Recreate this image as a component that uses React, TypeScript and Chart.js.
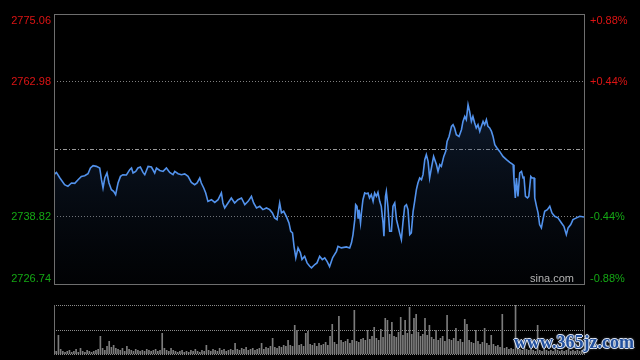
import React, { useEffect, useRef } from "react";
import { Chart, registerables } from "chart.js";

Chart.register(...registerables);

// ---- data ----
const PREV_CLOSE = 2750.9;
const PRICE_TICKS = [2775.06, 2762.98, 2738.82, 2726.74];
const PCT_TICKS = ["+0.88%", "+0.44%", "-0.44%", "-0.88%"];
const GRID_LEVELS = [2762.98, 2738.82];

const minutes = [
  0, 1.1, 2.6, 4.8, 6.3, 7.9, 9.4, 10.9, 12.4, 13.9, 15.4, 16.5, 17.7, 19.2, 20.7, 21.5, 22.2, 23.0, 24.0, 24.9,
  26.0, 27.0, 27.9, 29.0, 30.1, 31.2, 32.8, 34.3, 35.1, 35.8, 37.0, 38.0, 39.1, 40.3, 41.1, 42.6, 44.1, 45.6, 46.4, 47.9,
  49.4, 50.9, 52.4, 53.9, 54.7, 56.2, 57.7, 59.2, 60.7, 62.2, 63.7, 64.8, 66.0, 66.7, 67.8, 68.7, 69.7, 71.3, 72.8, 74.3,
  75.8, 76.5, 77.3, 78.8, 80.3, 81.8, 83.3, 84.9, 86.4, 87.9, 89.4, 90.4, 91.7, 93.2, 94.6, 96.2, 97.7, 98.9, 99.9, 101.0,
  102.2, 103.0, 104.0, 105.2, 106.4, 107.2, 108.0, 108.7, 109.5, 110.5, 111.6, 112.3, 113.5, 114.6, 115.8, 116.6, 118.1, 119.1, 120.3, 121.5,
  122.6, 123.7, 124.8, 126.2, 127.9, 128.6, 130.1, 132.4, 133.9, 134.7, 135.4, 136.2, 136.6, 137.2, 137.7, 138.1, 138.8, 139.2, 139.9, 140.7,
  141.4, 142.2, 142.9, 143.7, 144.5, 145.2, 146.0, 146.7, 147.5, 148.2, 149.0, 149.4, 150.1, 150.5, 151.2, 152.0, 152.8, 153.5, 154.3, 155.1,
  155.8, 156.5, 157.3, 158.0, 158.8, 159.6, 160.3, 161.1, 161.8, 162.6, 163.3, 164.1, 164.8, 165.6, 166.4, 167.1, 167.9, 168.6, 169.4, 170.1,
  170.9, 171.9, 173.2, 173.9, 174.7, 175.4, 176.5, 177.4, 178.0, 178.9, 180.0, 180.7, 181.4, 182.2, 183.4, 184.5, 185.2, 186.0, 186.7, 187.5,
  188.2, 189.0, 189.7, 190.5, 191.2, 192.0, 192.8, 193.5, 194.3, 195.0, 195.8, 196.5, 197.3, 198.1, 198.8, 199.6, 200.6, 201.8, 203.3, 204.9,
  206.4, 207.9, 208.3, 208.9, 209.4, 210.1, 210.9, 211.7, 212.4, 212.8, 213.5, 214.4, 215.0, 215.9, 216.5, 217.4, 217.7, 218.5, 219.2, 219.9,
  220.7, 221.4, 222.2, 223.4, 224.5, 225.5, 226.7, 228.2, 229.8, 230.9, 232.0, 232.8, 234.0, 235.0, 236.6, 238.1, 240,
];

const prices = [
  2746.30, 2746.71, 2745.76, 2744.51, 2744.21, 2744.82, 2744.75, 2745.41, 2746.00, 2746.12, 2746.48, 2747.50, 2747.92, 2747.79, 2747.50, 2745.41, 2743.92, 2745.71, 2746.61, 2744.82,
  2743.62, 2743.31, 2742.73, 2744.82, 2746.00, 2746.30, 2746.25, 2747.20, 2747.50, 2746.61, 2746.89, 2747.50, 2747.68, 2746.71, 2746.30, 2747.79, 2747.68, 2746.61, 2747.50, 2747.07,
  2746.89, 2747.50, 2746.71, 2746.30, 2746.89, 2746.48, 2746.30, 2746.43, 2746.00, 2744.92, 2744.51, 2744.82, 2745.71, 2744.82, 2743.92, 2743.03, 2741.53, 2741.83, 2741.35, 2741.83,
  2743.03, 2741.24, 2740.35, 2741.24, 2742.14, 2741.24, 2741.83, 2742.14, 2740.94, 2741.53, 2742.42, 2741.24, 2740.35, 2740.64, 2740.05, 2740.35, 2740.05, 2739.46, 2738.57, 2738.26,
  2741.24, 2739.46, 2739.75, 2738.85, 2737.67, 2736.17, 2735.89, 2733.49, 2731.42, 2733.20, 2732.31, 2731.11, 2731.70, 2730.52, 2729.92, 2729.63, 2730.22, 2730.52, 2731.70, 2731.11,
  2731.42, 2730.76, 2729.86, 2731.47, 2732.59, 2733.49, 2733.20, 2733.38, 2733.20, 2734.10, 2735.58, 2738.26, 2740.94, 2740.64, 2738.57, 2740.05, 2737.67, 2739.46, 2741.83, 2743.03,
  2742.91, 2743.03, 2742.14, 2742.73, 2741.53, 2743.03, 2742.42, 2743.14, 2741.53, 2740.64, 2737.67, 2735.28, 2742.42, 2743.31, 2740.64, 2736.17, 2736.17, 2740.64, 2741.24, 2738.26,
  2737.07, 2735.89, 2734.69, 2737.67, 2740.64, 2740.94, 2740.05, 2735.58, 2735.89, 2739.69, 2741.47, 2743.62, 2744.82, 2745.71, 2745.41, 2746.30, 2748.99, 2749.88, 2748.68, 2745.71,
  2747.50, 2749.58, 2748.09, 2746.89, 2748.09, 2747.79, 2749.58, 2750.47, 2752.26, 2753.15, 2754.94, 2755.24, 2754.66, 2753.46, 2753.15, 2754.35, 2755.83, 2756.73, 2756.14, 2758.83,
  2757.63, 2755.83, 2756.73, 2755.55, 2754.66, 2755.24, 2754.05, 2754.94, 2755.83, 2755.24, 2756.14, 2754.94, 2754.66, 2754.05, 2753.15, 2751.67, 2751.08, 2750.47, 2749.58, 2748.99,
  2748.51, 2748.09, 2745.41, 2742.14, 2745.71, 2742.42, 2746.61, 2746.89, 2745.71, 2746.00, 2742.42, 2742.14, 2742.42, 2746.00, 2745.71, 2745.71, 2742.14, 2740.64, 2739.46, 2737.37,
  2736.78, 2738.26, 2739.75, 2740.05, 2740.64, 2739.46, 2738.85, 2738.57, 2737.67, 2737.07, 2735.58, 2736.78, 2737.37, 2738.26, 2738.57, 2738.85, 2738.74,
];

const volumes = [
  4, 3, 19, 5, 3, 2, 3, 4, 2, 3, 5, 2, 6, 3, 2, 4, 3, 2, 3, 4,
  5, 18, 6, 4, 8, 13, 7, 9, 6, 5, 4, 6, 3, 8, 5, 4, 3, 5, 4, 3,
  4, 3, 5, 4, 3, 4, 5, 3, 4, 21, 6, 4, 3, 6, 4, 3, 2, 3, 4, 2,
  3, 2, 4, 3, 5, 3, 2, 4, 3, 9, 4, 3, 5, 4, 3, 6, 4, 5, 3, 4,
  5, 4, 11, 5, 4, 6, 5, 7, 4, 5, 6, 4, 5, 6, 11, 5, 7, 6, 8, 16,
  7, 6, 8, 7, 9, 8, 14, 9, 8, 29, 24, 9, 10, 8, 21, 23, 10, 9, 11, 8,
  11, 9, 10, 12, 9, 18, 30, 12, 10, 38, 14, 12, 13, 15, 11, 14, 44, 13, 12, 15,
  16, 14, 24, 15, 18, 27, 16, 14, 25, 17, 36, 34, 20, 32, 18, 17, 22, 37, 19, 34,
  21, 47, 20, 36, 40, 22, 18, 20, 36, 19, 29, 17, 15, 24, 14, 16, 18, 13, 39, 15,
  14, 16, 26, 13, 15, 12, 35, 30, 14, 12, 11, 24, 13, 10, 12, 26, 11, 9, 19, 10,
  8, 9, 7, 40, 6, 7, 5, 6, 5, 49, 6, 5, 4, 14, 5, 4, 5, 4, 3, 29,
  4, 3, 5, 4, 3, 4, 3, 5, 4, 3, 4, 3, 4, 5, 3, 4, 3, 4, 3, 4, 3,
];

const volumeLabels = volumes.map((_, i) => String(i));

const FONT = '11px "Liberation Sans", Arial, sans-serif';
const RED = "#dd1414";
const GREEN = "#14a814";

const pricePanelPlugin = {
  id: "pricePanel",
  beforeDatasetsDraw(chart: any) {
    const { ctx, chartArea } = chart;
    const y = chart.scales.y;
    const { left, right } = chartArea;
    ctx.save();
    ctx.lineWidth = 1;
    ctx.strokeStyle = "#808080";
    ctx.setLineDash([1, 2]);
    GRID_LEVELS.forEach((v) => {
      const py = Math.round(y.getPixelForValue(v)) + 0.5;
      ctx.beginPath();
      ctx.moveTo(left, py);
      ctx.lineTo(right, py);
      ctx.stroke();
    });
    ctx.strokeStyle = "#9a9a9a";
    ctx.setLineDash([4, 2, 1, 2]);
    const pc = Math.round(y.getPixelForValue(PREV_CLOSE)) + 0.5;
    ctx.beginPath();
    ctx.moveTo(left, pc);
    ctx.lineTo(right, pc);
    ctx.stroke();
    ctx.restore();
  },
  afterDraw(chart: any) {
    const { ctx, chartArea } = chart;
    const y = chart.scales.y;
    const { left, right, top, bottom } = chartArea;
    ctx.save();
    ctx.setLineDash([]);
    ctx.strokeStyle = "#6e6e6e";
    ctx.lineWidth = 1;
    ctx.strokeRect(left + 0.5, top + 0.5, right - left, bottom - top);
    ctx.font = FONT;
    PRICE_TICKS.forEach((v, i) => {
      const py = y.getPixelForValue(v);
      const color = v > PREV_CLOSE ? RED : GREEN;
      ctx.fillStyle = color;
      let base: CanvasTextBaseline = "middle";
      if (i === 0) base = "top";
      if (i === PRICE_TICKS.length - 1) base = "bottom";
      ctx.textBaseline = base;
      const ty = i === 0 ? py + 1 : py;
      ctx.textAlign = "right";
      ctx.fillText(v.toFixed(2), left - 3, ty);
      ctx.textAlign = "left";
      ctx.fillText(PCT_TICKS[i], right + 6, ty);
    });
    ctx.fillStyle = "#b4b4b4";
    ctx.textAlign = "right";
    ctx.textBaseline = "alphabetic";
    ctx.fillText("sina.com", right - 10, bottom - 2);
    ctx.restore();
  },
};

const volumePanelPlugin = {
  id: "volumePanel",
  beforeDatasetsDraw(chart: any) {
    const { ctx, chartArea } = chart;
    const { left, right, top, bottom } = chartArea;
    ctx.save();
    ctx.lineWidth = 1;
    ctx.strokeStyle = "#8c8c8c";
    ctx.setLineDash([1, 1]);
    const mid = Math.round((top + bottom) / 2) + 0.5;
    [top + 0.5, mid, bottom + 0.5].forEach((py) => {
      ctx.beginPath();
      ctx.moveTo(left, py);
      ctx.lineTo(right, py);
      ctx.stroke();
    });
    ctx.setLineDash([]);
    ctx.strokeStyle = "#6e6e6e";
    [left + 0.5, right + 0.5].forEach((px) => {
      ctx.beginPath();
      ctx.moveTo(px, top);
      ctx.lineTo(px, bottom + 1);
      ctx.stroke();
    });
    ctx.restore();
  },
};

export default function App() {
  const priceRef = useRef<HTMLCanvasElement | null>(null);
  const volRef = useRef<HTMLCanvasElement | null>(null);

  useEffect(() => {
    const pctx = priceRef.current!.getContext("2d")!;
    const points = minutes.map((m, i) => ({ x: m, y: prices[i] }));

    const priceChart = new Chart(pctx, {
      type: "line",
      data: {
        datasets: [
          {
            data: points,
            borderColor: "#5292ec",
            borderWidth: 1.6,
            pointRadius: 0,
            tension: 0,
            fill: "start",
            backgroundColor: (c: any) => {
              const area = c.chart.chartArea;
              if (!area) return "rgba(20,40,80,0.3)";
              const g = c.chart.ctx.createLinearGradient(0, area.top, 0, area.bottom);
              g.addColorStop(0, "rgba(45,80,140,0.5)");
              g.addColorStop(0.35, "rgba(38,70,120,0.35)");
              g.addColorStop(1, "rgba(20,40,70,0.06)");
              return g;
            },
          },
        ],
      },
      options: {
        responsive: false,
        animation: false,
        devicePixelRatio: 1,
        layout: { padding: { left: 54, right: 56, top: 14, bottom: 6 } },
        plugins: { legend: { display: false }, tooltip: { enabled: false } },
        scales: {
          x: { type: "linear", min: 0, max: 240, display: false },
          y: { min: PRICE_TICKS[3], max: PRICE_TICKS[0], display: false },
        },
      },
      plugins: [pricePanelPlugin],
    });

    const vctx = volRef.current!.getContext("2d")!;
    const volChart = new Chart(vctx, {
      type: "bar",
      data: {
        labels: volumeLabels,
        datasets: [
          {
            data: volumes,
            backgroundColor: "#7c7c7c",
            barPercentage: 0.75,
            categoryPercentage: 1,
          },
        ],
      },
      options: {
        responsive: false,
        animation: false,
        devicePixelRatio: 1,
        layout: { padding: { left: 54, right: 56, top: 15, bottom: 6 } },
        plugins: { legend: { display: false }, tooltip: { enabled: false } },
        scales: {
          x: { display: false, offset: false },
          y: { min: 0, max: 49, display: false },
        },
      },
      plugins: [volumePanelPlugin],
    });

    return () => {
      priceChart.destroy();
      volChart.destroy();
    };
  }, []);

  return (
    <div
      style={{
        position: "fixed",
        left: 0,
        top: 0,
        width: 640,
        height: 360,
        background: "#000",
        overflow: "hidden",
      }}
    >
      <canvas
        ref={priceRef}
        width={640}
        height={290}
        style={{ position: "absolute", left: 0, top: 0, width: 640, height: 290 }}
      />
      <canvas
        ref={volRef}
        width={640}
        height={70}
        style={{ position: "absolute", left: 0, top: 290, width: 640, height: 70 }}
      />
      <div
        style={{
          position: "absolute",
          left: 514,
          top: 332,
          font: 'bold 18px "Liberation Serif", "DejaVu Serif", serif',
          color: "#22509e",
          textShadow:
            "1px 0 0 #dfe6f2, -1px 0 0 #dfe6f2, 0 1px 0 #dfe6f2, 0 -1px 0 #dfe6f2, 0 0 3px #b8c6de",
          whiteSpace: "nowrap",
          lineHeight: "20px",
        }}
      >
        www.365jz.com
      </div>
    </div>
  );
}
